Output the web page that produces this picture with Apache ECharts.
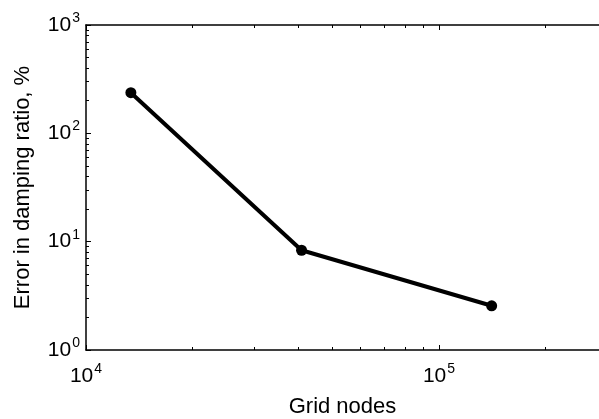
<!DOCTYPE html>
<html>
<head>
<meta charset="utf-8">
<script src="https://cdn.jsdelivr.net/npm/echarts@6/dist/echarts.min.js"></script>
<style>
  html, body { margin: 0; padding: 0; background: #fff; }
  #main { width: 599px; height: 419px; }
</style>
</head>
<body>
<div id="main"></div>
<script>
// data
var gridNodes = [13400, 40800, 141000];
var errorPct = [237, 8.33, 2.56];

var xMajor = [1e4, 1e5];
var xMinor = [2e4, 3e4, 4e4, 5e4, 6e4, 7e4, 8e4, 9e4, 2e5];
var yMajor = [1, 10, 100, 1000];
var yMinor = [2, 3, 4, 5, 6, 7, 8, 9, 20, 30, 40, 50, 60, 70, 80, 90, 200, 300, 400, 500, 600, 700, 800, 900];

var chart = echarts.init(document.getElementById('main'));

var font = 'Liberation Sans, Arial, sans-serif';
var rich = {
    b: { fontSize: 21, fontFamily: font, color: '#000' },
    s: { fontSize: 14, fontFamily: font, color: '#000', padding: [0, 0, 14, 1] }
};

function powLabel(v) {
    var e = Math.round(Math.log(v) / Math.LN10);
    return '{b|10}{s|' + e + '}';
}

function tickAxis(pos, vals, len, opts) {
    var a = {
        type: 'log',
        logBase: 10,
        position: pos,
        axisLine: { show: false },
        axisTick: { show: true, inside: true, length: len, customValues: vals,
            lineStyle: { color: '#000', width: 1 } },
        axisLabel: { show: false },
        splitLine: { show: false }
    };
    return Object.assign(a, opts);
}

var xr = { min: 1e4, max: 2.84e5 };
var yr = { min: 1, max: 1000 };

var data = gridNodes.map(function (x, i) { return [x, errorPct[i]]; });

var option = {
    animation: false,
    backgroundColor: '#fff',
    grid: { left: 86, right: 0, top: 25, bottom: 69, containLabel: false, outerBoundsMode: 'none' },
    xAxis: [
        Object.assign(tickAxis('bottom', xMajor, 5, xr), {
            name: 'Grid nodes',
            nameLocation: 'middle',
            nameGap: 46,
            nameTextStyle: { fontSize: 22, fontFamily: font, color: '#000' },
            axisLine: { show: true, lineStyle: { color: '#000', width: 1.5 } },
            axisLabel: { show: true, customValues: xMajor, margin: 12,
                formatter: powLabel, rich: rich }
        }),
        tickAxis('bottom', xMinor, 3, xr),
        Object.assign(tickAxis('top', xMajor, 5, xr), {
            axisLine: { show: true, lineStyle: { color: '#000', width: 1.5 } }
        }),
        tickAxis('top', xMinor, 3, xr)
    ],
    yAxis: [
        Object.assign(tickAxis('left', yMajor, 5, yr), {
            name: 'Error in damping ratio, %',
            nameLocation: 'middle',
            nameGap: 52,
            nameTextStyle: { fontSize: 22, fontFamily: font, color: '#000' },
            axisLine: { show: true, lineStyle: { color: '#000', width: 1.5 } },
            axisLabel: { show: true, customValues: yMajor, margin: 6,
                formatter: powLabel, rich: rich }
        }),
        tickAxis('left', yMinor, 3, yr)
    ],
    series: [{
        type: 'line',
        xAxisIndex: 0,
        yAxisIndex: 0,
        data: data,
        symbol: 'circle',
        symbolSize: 11,
        lineStyle: { color: '#000', width: 4 },
        itemStyle: { color: '#000' }
    }]
};

chart.setOption(option);
</script>
</body>
</html>
